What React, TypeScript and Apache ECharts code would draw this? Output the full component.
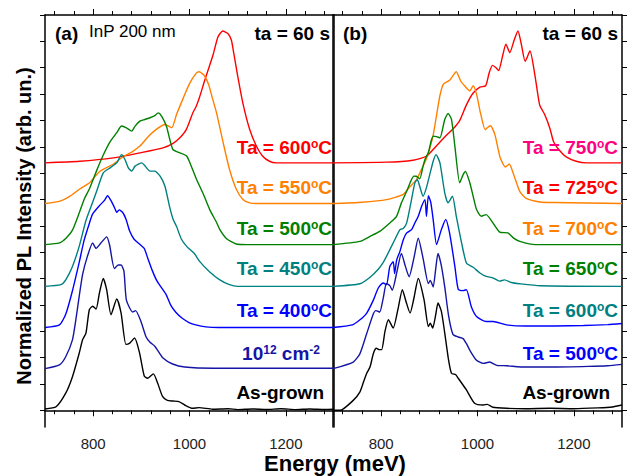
import React, { useEffect, useRef } from "react";
import * as echarts from "echarts";

type P = [number, number][];

// Panel (a): energy (meV), normalized intensity
const asGrownA: P = [[700,0.01],[723,0.027],[743,0.13],[757,0.255],[771,0.433],[778,0.535],[785,0.585],[792,0.763],[799,0.79],[806,0.768],[813,0.89],[821,1.0],[828,0.915],[837,0.725],[849,0.844],[858,0.738],[868,0.5],[876,0.51],[886,0.548],[896,0.44],[906,0.26],[913,0.243],[925,0.276],[934,0.205],[944,0.105],[954,0.075],[966,0.07],[978,0.065],[990,0.04],[1006,0.015],[1020,0.02],[1048,0.008],[1080,0.012],[1100,0.005],[1130,0.01],[1160,0.006],[1190,0.012],[1220,0.005],[1250,0.01],[1280,0.006],[1300,0.008]];
const doseA: P = [[700,0],[730,0.028],[743,0.09],[757,0.218],[764,0.37],[771,0.548],[778,0.713],[788,0.852],[799,0.953],[806,0.913],[816,0.953],[828,1.0],[834,0.94],[844,0.76],[852,0.786],[858,0.786],[864,0.737],[869,0.52],[882,0.43],[888,0.44],[899,0.36],[910,0.24],[918,0.2],[928,0.17],[945,0.08],[965,0.035],[990,0.012],[1050,0.003],[1300,0.003]];
const ta400A: P = [[700,0],[730,0.02],[743,0.1],[757,0.279],[771,0.494],[781,0.659],[792,0.79],[799,0.862],[813,0.925],[823,0.963],[830,1.0],[837,0.963],[844,0.913],[849,0.875],[854,0.893],[861,0.875],[868,0.824],[876,0.73],[885,0.67],[896,0.634],[906,0.6],[913,0.53],[923,0.43],[933,0.35],[951,0.254],[961,0.17],[972,0.114],[985,0.07],[999,0.038],[1013,0.02],[1034,0.005],[1060,0],[1300,0]];
const ta450A: P = [[700,0],[733,0.013],[743,0.05],[757,0.152],[771,0.304],[785,0.5],[795,0.6],[807,0.72],[821,0.862],[835,0.9],[849,0.938],[859,1.0],[866,0.963],[873,0.9],[880,0.875],[887,0.913],[901,0.938],[908,0.913],[918,0.875],[928,0.875],[939,0.837],[949,0.76],[959,0.6],[966,0.51],[973,0.456],[983,0.36],[995,0.3],[1010,0.25],[1021,0.19],[1042,0.11],[1063,0.05],[1083,0.013],[1100,0],[1300,0]];
const ta500A: P = [[700,0],[730,0.013],[744,0.05],[757,0.11],[771,0.24],[782,0.35],[793,0.43],[807,0.56],[821,0.68],[835,0.78],[849,0.85],[859,0.9],[869,0.887],[880,0.862],[887,0.9],[897,0.938],[907,0.95],[918,0.963],[928,0.98],[935,1.0],[942,0.976],[952,0.9],[959,0.8],[966,0.72],[980,0.697],[994,0.672],[1001,0.62],[1014,0.5],[1028,0.39],[1042,0.266],[1056,0.17],[1063,0.114],[1077,0.045],[1097,0.005],[1120,0],[1300,0]];
const ta550A: P = [[700,0],[731,0.018],[752,0.056],[772,0.11],[793,0.16],[814,0.245],[842,0.3],[862,0.355],[880,0.39],[897,0.436],[915,0.51],[931,0.563],[949,0.6],[963,0.575],[973,0.675],[987,0.8],[1000,0.91],[1014,0.99],[1020,1.0],[1031,0.97],[1040,0.9],[1046,0.82],[1056,0.69],[1070,0.46],[1083,0.26],[1097,0.11],[1111,0.03],[1125,0.005],[1140,0],[1300,0]];
const ta600A: P = [[700,0],[772,0.012],[842,0.038],[897,0.076],[945,0.114],[966,0.148],[980,0.19],[993,0.25],[1007,0.38],[1014,0.43],[1021,0.5],[1032,0.63],[1049,0.82],[1059,0.955],[1069,1.0],[1080,0.98],[1087,0.93],[1092,0.83],[1100,0.66],[1111,0.45],[1125,0.253],[1139,0.126],[1152,0.05],[1166,0.012],[1180,0],[1300,0]];

// Panel (b)
const asGrownB: P = [[700,0],[715,0],[742,0.075],[756,0.14],[763,0.21],[770,0.281],[777,0.33],[784,0.433],[790,0.471],[796,0.46],[801,0.46],[808,0.6],[815,0.687],[825,0.624],[835,0.77],[844,0.915],[852,0.82],[860,0.738],[868,0.85],[877,1.0],[889,0.839],[898,0.636],[902,0.66],[907,0.624],[913,0.72],[918,0.814],[925,0.75],[932,0.586],[940,0.38],[946,0.281],[955,0.27],[960,0.243],[977,0.154],[994,0.053],[1012,0.04],[1020,0.045],[1032,0.023],[1060,0.015],[1100,0.012],[1150,0.015],[1200,0.012],[1250,0.018],[1280,0.025],[1300,0.04]];
const ta500B: P = [[700,0],[742,0.05],[756,0.114],[770,0.266],[784,0.418],[789,0.44],[797,0.43],[804,0.53],[811,0.646],[818,0.63],[823,0.595],[833,0.74],[842,0.875],[850,0.78],[858,0.697],[868,0.84],[877,0.99],[887,0.837],[898,0.646],[902,0.67],[908,0.62],[913,0.75],[918,0.875],[925,0.78],[932,0.62],[940,0.4],[949,0.26],[960,0.24],[970,0.228],[977,0.19],[984,0.14],[998,0.063],[1012,0.04],[1025,0.05],[1040,0.025],[1060,0.022],[1100,0.012],[1160,0.012],[1230,0.017],[1270,0.022],[1300,0.032]];
const ta600B: P = [[700,0],[740,0.02],[756,0.059],[770,0.11],[784,0.21],[794,0.3],[804,0.338],[811,0.325],[818,0.464],[825,0.5],[828,0.41],[832,0.51],[839,0.578],[846,0.667],[853,0.718],[863,0.743],[870,0.794],[877,0.844],[884,0.92],[891,0.971],[894,0.844],[898,1.0],[903,0.95],[908,0.819],[915,0.629],[925,0.743],[934,0.82],[942,0.718],[953,0.464],[960,0.29],[970,0.28],[977,0.287],[987,0.16],[998,0.084],[1018,0.046],[1032,0.046],[1060,0.02],[1100,0.012],[1160,0.012],[1220,0.015],[1270,0.022],[1300,0.03]];
const ta650B: P = [[700,0],[756,0.02],[777,0.07],[794,0.13],[804,0.18],[811,0.228],[825,0.33],[839,0.431],[846,0.44],[853,0.482],[863,0.659],[870,0.786],[875,0.811],[880,0.76],[887,0.684],[894,0.75],[901,0.85],[908,0.95],[914,1.0],[922,0.938],[932,0.71],[939,0.634],[948,0.684],[956,0.532],[967,0.33],[977,0.178],[991,0.145],[1005,0.102],[1018,0.076],[1032,0.065],[1046,0.04],[1056,0.05],[1070,0.03],[1088,0.02],[1130,0.005],[1300,0]];
const ta700B: P = [[700,0],[756,0.025],[777,0.063],[797,0.101],[818,0.165],[832,0.215],[842,0.317],[853,0.406],[863,0.494],[868,0.52],[873,0.519],[880,0.5],[887,0.596],[891,0.646],[898,0.7],[904,0.79],[908,0.824],[915,0.82],[922,0.811],[932,0.95],[939,0.995],[946,0.95],[953,0.748],[963,0.47],[970,0.53],[975,0.555],[984,0.47],[991,0.367],[998,0.266],[1008,0.215],[1018,0.228],[1032,0.165],[1046,0.095],[1063,0.089],[1075,0.05],[1088,0.025],[1120,0],[1300,0]];
const ta725B: P = [[700,0],[760,0.01],[811,0.03],[846,0.07],[860,0.13],[873,0.18],[880,0.23],[887,0.284],[894,0.34],[901,0.42],[908,0.52],[915,0.67],[922,0.82],[929,0.905],[942,0.935],[956,1.0],[965,0.93],[974,0.89],[984,0.855],[991,0.895],[998,0.83],[1006,0.69],[1016,0.56],[1022,0.58],[1027,0.59],[1036,0.525],[1047,0.35],[1058,0.277],[1066,0.3],[1075,0.22],[1088,0.09],[1101,0.04],[1130,0.012],[1160,0.008],[1300,0]];
const ta750B: P = [[700,0],[811,0.005],[866,0.02],[894,0.05],[915,0.13],[933,0.2],[950,0.26],[963,0.32],[977,0.44],[991,0.53],[1005,0.575],[1017,0.585],[1024,0.68],[1031,0.74],[1039,0.72],[1044,0.7],[1052,0.81],[1059,0.9],[1067,0.836],[1076,0.93],[1084,1.0],[1091,0.9],[1099,0.77],[1109,0.849],[1119,0.67],[1129,0.44],[1139,0.37],[1150,0.265],[1158,0.16],[1170,0.095],[1184,0.045],[1205,0.012],[1226,0],[1300,0]];

const offsets = [0, 0.316, 0.628, 0.94, 1.257, 1.569, 1.878];
const curveColors = ["#000000", "#1515a5", "#0000ff", "#008080", "#008000", "#ff8000", "#ff0000"];
const curvesA = [asGrownA, doseA, ta400A, ta450A, ta500A, ta550A, ta600A];
const curvesB = [asGrownB, ta500B, ta600B, ta650B, ta700B, ta725B, ta750B];
const labelsA = ["As-grown", "10^12 cm^-2", "Ta = 400°C", "Ta = 450°C", "Ta = 500°C", "Ta = 550°C", "Ta = 600°C"];
const labelsB = ["As-grown", "Ta = 500°C", "Ta = 600°C", "Ta = 650°C", "Ta = 700°C", "Ta = 725°C", "Ta = 750°C"];
const labelColorsA = ["#000000", "#1515a5", "#0000ff", "#008080", "#008000", "#ff8000", "#ff0000"];
const labelColorsB = ["#000000", "#0000ff", "#008080", "#008000", "#ff8000", "#ff0000", "#ff0080"];
const majorTicks = [800, 1000, 1200];
const minorTicks = [720, 760, 840, 880, 920, 960, 1040, 1080, 1120, 1160, 1240, 1280];
const yTicks = [0, 0.2, 0.4, 0.6, 0.8, 1.0, 1.2, 1.4, 1.6, 1.8, 2.0, 2.2, 2.4, 2.6, 2.8, 3.0];

const FONT = "Arial, Liberation Sans, Helvetica, sans-serif";

function richLabel(label: string): string {
  if (label.startsWith("10^")) return "{t|10}{s|12}{t| cm}{s|-2}";
  const m = label.match(/^(.*?)(\d+)°C$/);
  if (m) return `{t|${m[1]}${m[2]}}{s|o}{t|C}`;
  return `{t|${label}}`;
}

export default function App() {
  const ref = useRef<HTMLDivElement>(null);
  useEffect(() => {
    if (!ref.current) return;
    const chart = echarts.init(ref.current, undefined, { renderer: "svg" });

    const lineStyle = { color: "#000", width: 1.5 };
    const xBase = (grid: number, pos: "top" | "bottom", major: boolean, labels: boolean) => ({
      type: "value",
      gridIndex: grid,
      position: pos,
      min: 700,
      max: 1300,
      axisLine: { show: major, lineStyle },
      axisTick: { show: true, inside: false, length: major ? 6 : 4, customValues: major ? majorTicks : minorTicks, lineStyle: { color: "#000", width: 1 } },
      axisLabel: labels
        ? { show: true, customValues: majorTicks, fontSize: 15, color: "#222", fontFamily: FONT, margin: 9, formatter: (v: number) => String(v) }
        : { show: false },
      splitLine: { show: false },
    });
    const yBase = (grid: number, pos: "left" | "right", ticks: boolean) => ({
      type: "value",
      gridIndex: grid,
      position: pos,
      min: -0.127,
      max: 3.0,
      axisLine: { show: true, lineStyle },
      axisTick: { show: ticks, inside: false, length: 5, customValues: yTicks, lineStyle: { color: "#000", width: 1 } },
      axisLabel: { show: false },
      splitLine: { show: false },
    });

    const series: any[] = [];
    curvesA.forEach((c, i) => {
      series.push({
        type: "line", xAxisIndex: 0, yAxisIndex: 0, showSymbol: false, smooth: 0.2,
        lineStyle: { color: curveColors[i], width: 1.4 }, itemStyle: { color: curveColors[i] },
        data: c.map(([e, v]) => [e, offsets[i] + v]), z: 10 - i,
      });
    });
    curvesB.forEach((c, i) => {
      series.push({
        type: "line", xAxisIndex: 4, yAxisIndex: 2, showSymbol: false, smooth: 0.2,
        lineStyle: { color: curveColors[i], width: 1.4 }, itemStyle: { color: curveColors[i] },
        data: c.map(([e, v]) => [e, offsets[i] + v]), z: 10 - i,
      });
    });

    const labelYs = [392, 353, 310, 268, 228, 187, 147];
    const labelXA = [324, 320, 332, 332, 332, 332, 332];
    const labelXB = [610, 618, 618, 618, 618, 618, 618];
    const mkLabel = (text: string, x: number, y: number, color: string) => ({
      type: "text",
      x, y, z: 100,
      style: {
        text: richLabel(text),
        align: "right",
        verticalAlign: "middle",
        fill: color,
        rich: {
          t: { fontSize: 19, fontWeight: "bold", fontFamily: FONT, fill: color },
          s: { fontSize: 12, fontWeight: "bold", fontFamily: FONT, fill: color, verticalAlign: "top" },
        },
      },
    });
    const graphics: any[] = [];
    labelsA.forEach((l, i) => graphics.push(mkLabel(l, labelXA[i], labelYs[i], labelColorsA[i])));
    labelsB.forEach((l, i) => graphics.push(mkLabel(l, labelXB[i], labelYs[i], labelColorsB[i])));
    const plain = (text: string, x: number, y: number, size: number, bold: boolean, align: string, rotation = 0) => ({
      type: "text", x, y, rotation, z: 100,
      style: { text, fill: "#000", fontSize: size, fontWeight: bold ? "bold" : "normal", fontFamily: FONT, align, verticalAlign: "middle" },
    });
    graphics.push(plain("(a)", 55, 33, 19, true, "left"));
    graphics.push(plain("InP 200 nm", 89, 31, 17, false, "left"));
    graphics.push(plain("ta = 60 s", 330, 33, 19, true, "right"));
    graphics.push(plain("(b)", 343, 33, 19, true, "left"));
    graphics.push(plain("ta = 60 s", 618, 33, 19, true, "right"));
    graphics.push(plain("Energy (meV)", 335, 463, 22, true, "center"));
    graphics.push(plain("Normalized PL Intensity (arb. un.)", 24, 226, 20, true, "center", Math.PI / 2));

    chart.setOption({
      animation: false,
      backgroundColor: "#ffffff",
      textStyle: { fontFamily: FONT },
      grid: [
        { left: 45, top: 15, width: 289, height: 412 },
        { left: 333, top: 15, width: 289, height: 412 },
      ],
      xAxis: [
        xBase(0, "bottom", true, true),
        xBase(0, "bottom", false, false),
        xBase(0, "top", true, false),
        xBase(0, "top", false, false),
        xBase(1, "bottom", true, true),
        xBase(1, "bottom", false, false),
        xBase(1, "top", true, false),
        xBase(1, "top", false, false),
      ],
      yAxis: [
        yBase(0, "left", true),
        yBase(0, "right", false),
        yBase(1, "left", false),
        yBase(1, "right", true),
      ],
      series,
      graphic: graphics,
    });
    return () => chart.dispose();
  }, []);
  return <div ref={ref} style={{ position: "absolute", left: 0, top: 0, width: 634, height: 476 }} />;
}
